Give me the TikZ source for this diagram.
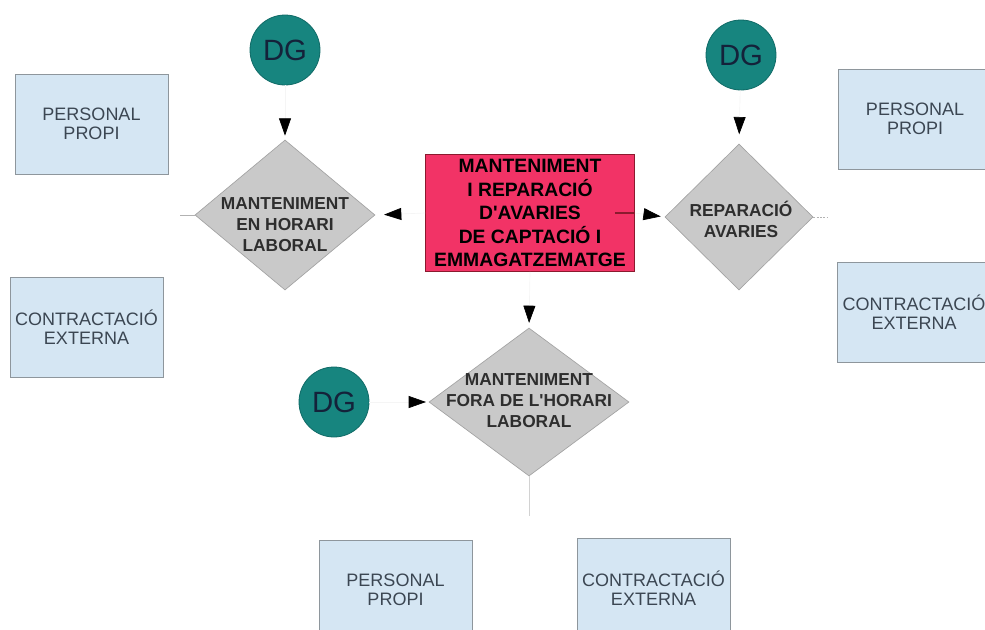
\documentclass[tikz,border=0pt]{standalone}
\usepackage{fontspec}
\setmainfont{Liberation Sans}
\usetikzlibrary{shapes.geometric,arrows.meta}

\definecolor{boxblue}{HTML}{D5E6F3}
\definecolor{boxtext}{HTML}{3B4652}
\definecolor{boxedge}{HTML}{8E969C}
\definecolor{dgteal}{HTML}{17857F}
\definecolor{dgedge}{HTML}{0F6A66}
\definecolor{dgtext}{HTML}{14223A}
\definecolor{diagray}{HTML}{C9C9C9}
\definecolor{diaedge}{HTML}{A3A3A3}
\definecolor{diatext}{HTML}{2E2E2E}
\definecolor{hotpink}{HTML}{F23366}
\definecolor{pinkedge}{HTML}{8B1A2E}

\begin{document}
\begin{tikzpicture}[x=0.75pt,y=-0.75pt,
  resource/.style={rectangle, draw=boxedge, fill=boxblue, line width=0.5pt,
    minimum width=114.75pt, minimum height=75pt, inner sep=0pt, align=center,
    text=boxtext, font=\fontsize{13.5}{14.5}\selectfont},
  dgnode/.style={circle, draw=dgedge, fill=dgteal, line width=0.6pt,
    minimum size=52.5pt, inner sep=0pt, text=dgtext,
    font=\fontsize{22}{22}\selectfont},
  decision/.style={diamond, draw=diaedge, fill=diagray, line width=0.5pt, inner sep=0pt},
  decisiontext/.style={align=center, text=diatext, inner sep=0pt,
    font=\bfseries\fontsize{13}{15.75}\selectfont},
  mainbox/.style={rectangle, draw=pinkedge, fill=hotpink, line width=0.6pt,
    minimum width=156.75pt, minimum height=87.75pt, inner sep=0pt, align=center,
    text=black, font=\bfseries\fontsize{14.5}{17.6}\selectfont},
  conn/.style={draw=black!4, line width=0.5pt,
    -{Triangle[length=13pt,width=9pt,color=black]}},
  stub/.style={draw=gray!60, line width=0.5pt}
]
\useasboundingbox (0,0) rectangle (985,629);
\clip (0,0) rectangle (985,629);

% central task
\node[mainbox] (ctr) at (530,213) {MANTENIMENT\\I REPARACIÓ\\D\textquotesingle AVARIES\\DE CAPTACIÓ I\\EMMAGATZEMATGE};

% decisions
\node[decision, minimum width=135pt, minimum height=112.5pt] (d1) at (285,215) {};
\node[decisiontext] (d1t) at (285,225) {MANTENIMENT\\EN HORARI\\LABORAL};
\node[decision, minimum width=111pt, minimum height=109.5pt] (d2) at (739,217) {};
\node[decisiontext] (d2t) at (741,219) {REPARACIÓ\\AVARIES};
\node[decision, minimum width=150pt, minimum height=111pt] (d3) at (529,402) {};
\node[decisiontext] (d3t) at (529,401) {MANTENIMENT\\FORA DE L\textquotesingle HORARI\\LABORAL};

% DG circles
\node[dgnode] (dg1) at (285,50) {DG};
\node[dgnode] (dg2) at (741,55) {DG};
\node[dgnode] (dg3) at (334,402) {DG};

% resources
\node[resource] (p1) at (91.5,124) {PERSONAL\\PROPI};
\node[resource] (c1) at (86.5,327) {CONTRACTACIÓ\\EXTERNA};
\node[resource] (p2) at (915,119) {PERSONAL\\PROPI};
\node[resource] (c2) at (914,312) {CONTRACTACIÓ\\EXTERNA};
\node[resource] (p3) at (395.5,590) {PERSONAL\\PROPI};
\node[resource] (c3) at (653.5,588) {CONTRACTACIÓ\\EXTERNA};

% connectors
\draw[conn, shorten >=3pt] (dg1) -- (d1.north);
\draw[conn, shorten >=7pt] (dg2) -- (d2.north);
\draw[conn, shorten >=2pt] (dg3) -- (d3.west);
\draw[conn, shorten >=6.5pt] (ctr.west) -- (d1.east);
\draw[conn, shorten >=3pt] (ctr.east) -- (d2.west);
\draw[conn, shorten >=3.5pt] (ctr.south) -- (d3.north);
\draw[pinkedge, line width=0.8pt] ([xshift=-15pt]ctr.east) -- (ctr.east);

% short branch stubs
\coordinate (s1) at (180,215);
\coordinate (s2) at (827,217);
\coordinate (s3) at (529,516);
\draw[stub] (d1.west) -- (s1);
\draw[stub, dashed, dash pattern=on 1.5pt off 1pt] (d2.east) -- (s2);
\draw[stub, draw=gray!35] (d3.south) -- (s3);
\end{tikzpicture}
\end{document}
